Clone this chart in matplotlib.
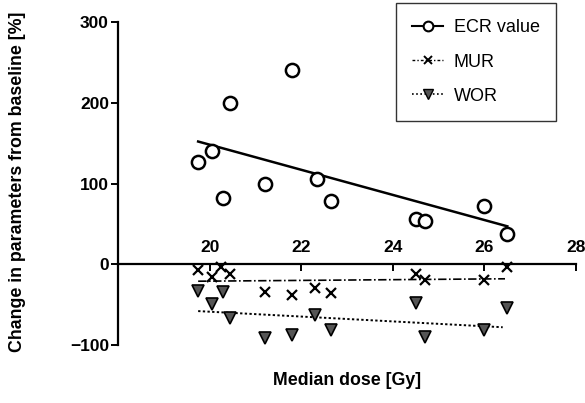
import numpy as np
import matplotlib
matplotlib.use("Agg")
from matplotlib import pyplot as plt

plt.rcParams['font.family'] = ['Liberation Sans', 'DejaVu Sans']

# ECR value (open circles)
ecr_x = [19.75, 20.05, 20.3, 20.45, 21.2, 21.8, 22.35, 22.65, 24.5, 24.7, 26.0, 26.5]
ecr_y = [127, 140, 82, 200, 100, 240, 105, 78, 56, 53, 72, 37]
ecr_fit_x = [19.75, 26.5]
ecr_fit_y = [152, 47]

# MUR (crosses)
mur_x = [19.75, 20.05, 20.25, 20.45, 21.2, 21.8, 22.3, 22.65, 24.5, 24.7, 26.0, 26.5]
mur_y = [-7, -16, -4, -12, -34, -38, -29, -35, -12, -19, -19, -4]
mur_fit_x = [19.75, 26.45]
mur_fit_y = [-21, -18]

# WOR (grey triangles)
wor_x = [19.75, 20.05, 20.3, 20.45, 21.2, 21.8, 22.3, 22.65, 24.5, 24.7, 26.0, 26.5]
wor_y = [-33, -49, -34, -67, -91, -88, -63, -81, -48, -90, -81, -54]
wor_fit_x = [19.75, 26.4]
wor_fit_y = [-58, -78]

x_ticks = [20, 22, 24, 26, 28]
y_ticks = [-100, 0, 100, 200, 300]

fig = plt.figure(figsize=(5.85, 4.03), dpi=100)
ax = fig.add_axes([0.2017, 0.1439, 0.7829, 0.8015])

ax.plot(ecr_x, ecr_y, 'o', mfc='white', mec='black', mew=1.8, ms=9.5, zorder=3)
ax.plot(ecr_fit_x, ecr_fit_y, '-', color='black', lw=1.8)

ax.plot(mur_x, mur_y, 'x', color='black', mew=1.6, ms=6.5, zorder=3)
ax.plot(mur_fit_x, mur_fit_y, linestyle=(0, (5, 1.5, 1, 1.5)), color='black', lw=1.2)

ax.plot(wor_x, wor_y, 'v', mfc='#555555', mec='black', mew=1.2, ms=8, zorder=3)
ax.plot(wor_fit_x, wor_fit_y, linestyle=(0, (1.2, 1.2)), color='black', lw=1.4)

ax.set_xlim(18, 28)
ax.set_ylim(-100, 300)
ax.set_xticks(x_ticks)
ax.set_yticks(y_ticks)

# x axis runs along y = 0 with labels above the line
ax.spines['top'].set_position(('data', 0))
ax.spines['bottom'].set_visible(False)
ax.spines['right'].set_visible(False)
for s in ['top', 'left']:
    ax.spines[s].set_linewidth(1.6)
ax.xaxis.set_ticks_position('top')
ax.tick_params(axis='x', direction='in', length=5, width=1.4, pad=7)
ax.tick_params(axis='y', direction='out', length=5, width=1.4, pad=1.5)
for lab in ax.get_xticklabels() + ax.get_yticklabels():
    lab.set_fontweight('bold')
    lab.set_fontsize(12.5)

fig.text(0.593, 0.055, 'Median dose [Gy]', ha='center', va='center',
         fontsize=12.8, fontweight='bold')
fig.text(0.03, 0.55, 'Change in parameters from baseline [%]', ha='center',
         va='center', rotation=90, fontsize=12.8, fontweight='bold')

h1, = ax.plot([], [], '-o', color='black', mfc='white', mec='black', mew=1.5, ms=7, lw=1.5)
h2, = ax.plot([], [], 'x', linestyle=(0, (2, 1.5, 1, 1.5)), color='black', mew=1.4, ms=6, lw=1)
h3, = ax.plot([], [], 'v', linestyle=(0, (1, 1.5)), color='black', mfc='#555555', mec='black', ms=7, lw=1.2)
leg = fig.legend([h1, h2, h3], ['ECR value', 'MUR', 'WOR'],
                 loc='upper left', bbox_to_anchor=(0.677, 0.992),
                 frameon=True, fancybox=False, edgecolor='black',
                 handlelength=1.7, borderpad=0.9, labelspacing=0.95,
                 handletextpad=0.6, fontsize=13, borderaxespad=0)
leg.get_frame().set_linewidth(1.0)

plt.savefig('out.png', dpi=100)
